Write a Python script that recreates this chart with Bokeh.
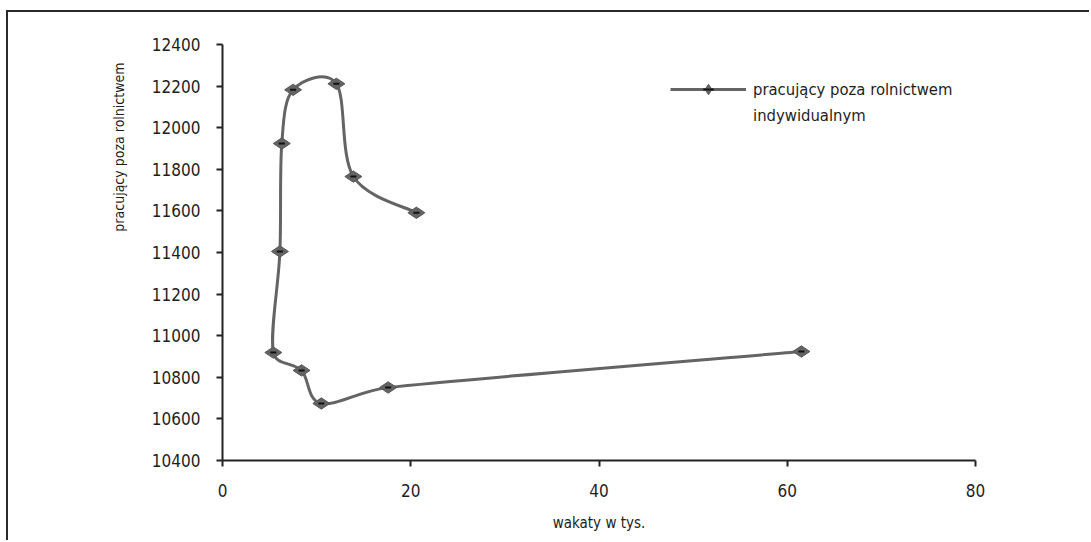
from bokeh.plotting import figure
from bokeh.models import (Range1d, Title, Legend, LegendItem,
                          FixedTicker, ColumnDataSource)
from bokeh.embed import file_html
from bokeh.resources import INLINE
import math

# vacancies (thousands) vs. people employed outside individual farming
vacancies = [61.5, 17.6, 10.5, 8.4, 5.4, 6.1, 6.3, 7.5, 12.1, 13.9, 20.6]
employed = [10924, 10751, 10674, 10833, 10919, 11405, 11924, 12182, 12211, 11765, 11591]

x_ticks = [0, 20, 40, 60, 80]
y_ticks = [10400, 10600, 10800, 11000, 11200, 11400, 11600, 11800, 12000, 12200, 12400]

series_lines = ["pracujący poza rolnictwem", "indywidualnym"]
x_title = "wakaty w tys."
y_title = "pracujący poza rolnictwem"

FONT = "Liberation Sans Narrow, DejaVu Sans Condensed, Arial Narrow, sans-serif"
TEXT = "#1e1e1e"
LINE = "#646464"

X0, X1, Y0, Y1 = 0, 80, 10400, 12400
W, H = 1083, 530          # canvas size inside the framed box
FRAME_W, FRAME_H = 753, 416
LEFT, TOP = 214, 32

p = figure(width=W, height=H, output_backend="svg", toolbar_location=None,
           x_range=Range1d(X0, X1), y_range=Range1d(Y0, Y1),
           min_border_left=LEFT, min_border_right=W - LEFT - FRAME_W,
           min_border_top=TOP, min_border_bottom=H - TOP - FRAME_H)
p.outline_line_color = None
p.xgrid.visible = False
p.ygrid.visible = False
p.background_fill_color = "white"
p.border_fill_color = "white"
# the chart area box: only its top and left edges fall inside the page
p.styles = {"margin-top": "10px", "margin-left": "6px",
            "border-top": "2px solid #2a2a2a", "border-left": "2px solid #2a2a2a"}

for ax in (p.xaxis[0], p.yaxis[0]):
    ax.axis_line_color = "#222222"
    ax.axis_line_width = 2
    ax.major_tick_line_color = "#222222"
    ax.major_tick_line_width = 2
    ax.major_tick_out = 6
    ax.major_tick_in = 0
    ax.minor_tick_line_color = None
    ax.major_label_text_font = FONT
    ax.major_label_text_font_size = "17px"
    ax.major_label_text_color = TEXT

p.xaxis.ticker = FixedTicker(ticks=x_ticks)
p.yaxis.ticker = FixedTicker(ticks=y_ticks)
p.xaxis.major_label_standoff = 17
p.yaxis.major_label_standoff = 16
p.xaxis.axis_label = x_title
p.xaxis.axis_label_text_font = FONT
p.xaxis.axis_label_text_font_size = "15px"
p.xaxis.axis_label_text_font_style = "normal"
p.xaxis.axis_label_text_color = TEXT
p.xaxis.axis_label_standoff = 14

# y-axis title, aligned toward the top of the axis
p.add_layout(Title(text=y_title, align="right", offset=18, standoff=44,
                   text_font=FONT, text_font_size="14px", text_font_style="normal",
                   text_color=TEXT), "left")

# smoothed connecting curve: Catmull-Rom style tangents evaluated in pixel
# proportions, with each control arm capped relative to its segment length
kx = FRAME_W / (X1 - X0)
ky = FRAME_H / (Y1 - Y0)
n = len(vacancies)


def arm(i, toward):
    a = max(i - 1, 0)
    b = min(i + 1, n - 1)
    tx = (vacancies[b] - vacancies[a]) * kx
    ty = (employed[b] - employed[a]) * ky
    tl = math.hypot(tx, ty) or 1.0
    sx = (vacancies[toward] - vacancies[i]) * kx
    sy = (employed[toward] - employed[i]) * ky
    seg = math.hypot(sx, sy)
    length = min(tl / 6, 0.4 * seg)
    sign = 1 if toward > i else -1
    return (vacancies[i] + sign * tx / tl * length / kx,
            employed[i] + sign * ty / tl * length / ky)


x0, y0, x1, y1, cx0, cy0, cx1, cy1 = [], [], [], [], [], [], [], []
for i in range(n - 1):
    c0 = arm(i, i + 1)
    c1 = arm(i + 1, i)
    x0.append(vacancies[i]); y0.append(employed[i])
    x1.append(vacancies[i + 1]); y1.append(employed[i + 1])
    cx0.append(c0[0]); cy0.append(c0[1])
    cx1.append(c1[0]); cy1.append(c1[1])

curve_src = ColumnDataSource(dict(x0=x0, y0=y0, x1=x1, y1=y1,
                                  cx0=cx0, cy0=cy0, cx1=cx1, cy1=cy1))
p.bezier(x0="x0", y0="y0", x1="x1", y1="y1", cx0="cx0", cy0="cy0",
         cx1="cx1", cy1="cy1", source=curve_src, line_color=LINE, line_width=3)

pts = ColumnDataSource(dict(x=vacancies, y=employed))
marks = p.scatter("x", "y", source=pts, marker="diamond", angle=math.pi / 2, size=17,
                  fill_color=LINE, line_color="#575757", line_width=1)
dots = p.scatter("x", "y", source=pts, marker="dash", size=6,
                 line_color="#111111", line_width=2)

# legend swatch line (hidden in the plot area)
swatch = p.line("x", "y", source=pts, line_color=LINE, line_width=3, visible=False)

legend = Legend(items=[LegendItem(label=series_lines[0], renderers=[swatch, marks, dots]),
                       LegendItem(label=series_lines[1], renderers=[])],
                location=(448, 332), glyph_width=76, glyph_height=26,
                label_standoff=7, padding=0, margin=0, spacing=0,
                border_line_color=None, background_fill_alpha=0,
                label_text_font=FONT, label_text_font_size="16.5px",
                label_text_color=TEXT)
p.add_layout(legend)

open("out.html", "w").write(file_html(p, INLINE))
